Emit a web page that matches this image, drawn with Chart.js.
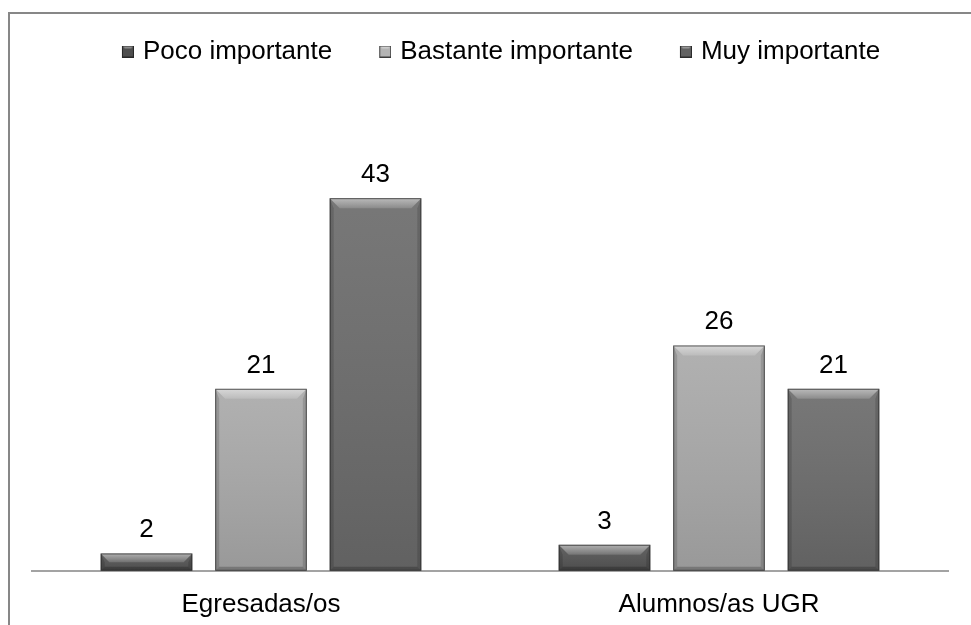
<!DOCTYPE html>
<html>
<head>
<meta charset="utf-8">
<script src="https://cdn.jsdelivr.net/npm/chart.js@4.4.0/dist/chart.umd.min.js"></script>
<style>
  html, body { margin: 0; padding: 0; background: #fff; }
  #wrap { width: 971px; height: 625px; position: relative; }
</style>
</head>
<body>
<div id="wrap"><canvas id="chart"></canvas></div>
<script>
// chart data
const categories = ['Egresadas/os', 'Alumnos/as UGR'];
const seriesNames = ['Poco importante', 'Bastante importante', 'Muy importante'];
const poco = [2, 3];
const bastante = [21, 26];
const muy = [43, 21];
const yMax = 50;

// styling
const barColors = ['#555555', '#aaaaaa', '#6c6c6c'];
const legendColors = ['#4e4e4e', '#b4b4b4', '#626262'];
const FONT = 'Liberation Sans, Arial, sans-serif';

// small bevelled square for the legend, drawn on the right part of a wider image
function legendMarker(color) {
    const c = document.createElement('canvas');
    c.width = 16; c.height = 12;
    const x = c.getContext('2d');
    x.fillStyle = color;
    x.fillRect(4, 0, 12, 12);
    x.fillStyle = 'rgba(255,255,255,0.35)';
    x.beginPath(); x.moveTo(4, 0); x.lineTo(16, 0); x.lineTo(13, 3); x.lineTo(7, 3); x.closePath(); x.fill();
    x.strokeStyle = 'rgba(30,30,30,0.8)';
    x.lineWidth = 1;
    x.strokeRect(4.5, 0.5, 11, 11);
    return c;
}

// frame around the whole chart (runs off the right and bottom edges)
const framePlugin = {
    id: 'frame',
    beforeDraw(chart) {
        const ctx = chart.ctx;
        ctx.save();
        ctx.strokeStyle = '#878787';
        ctx.lineWidth = 2;
        ctx.strokeRect(9, 13, 1200, 1200);
        ctx.restore();
    }
};

// move the legend to where the original has it
const legendShift = {
    id: 'legendShift',
    afterLayout(chart) {
        const l = chart.legend;
        l.left += 11; l.right += 11;
        l.top -= 63; l.bottom -= 63;
    }
};

// bevel look on bars + value labels above them
const bevelPlugin = {
    id: 'bevel',
    afterDatasetsDraw(chart) {
        const ctx = chart.ctx;
        chart.data.datasets.forEach((ds, di) => {
            const meta = chart.getDatasetMeta(di);
            meta.data.forEach((bar, i) => {
                const p = bar.getProps(['x', 'y', 'base', 'width'], true);
                const l = p.x - p.width / 2, r = p.x + p.width / 2;
                const t = p.y, b = p.base;
                const h = b - t;
                const bv = Math.min(10, h / 2);
                ctx.save();
                // body shading
                const g = ctx.createLinearGradient(0, t, 0, b);
                g.addColorStop(0, 'rgba(255,255,255,0.08)');
                g.addColorStop(1, 'rgba(0,0,0,0.10)');
                ctx.fillStyle = g;
                ctx.fillRect(l, t, p.width, h);
                // top bevel
                const gt = ctx.createLinearGradient(0, t, 0, t + bv);
                gt.addColorStop(0, 'rgba(255,255,255,0.5)');
                gt.addColorStop(1, 'rgba(255,255,255,0.15)');
                ctx.fillStyle = gt;
                ctx.beginPath();
                ctx.moveTo(l, t); ctx.lineTo(r, t);
                ctx.lineTo(r - bv, t + bv); ctx.lineTo(l + bv, t + bv);
                ctx.closePath(); ctx.fill();
                // sides
                ctx.fillStyle = 'rgba(0,0,0,0.14)';
                ctx.beginPath();
                ctx.moveTo(l, t); ctx.lineTo(l + 4, t + bv); ctx.lineTo(l + 4, b - 4); ctx.lineTo(l, b);
                ctx.closePath(); ctx.fill();
                ctx.beginPath();
                ctx.moveTo(r, t); ctx.lineTo(r - 4, t + bv); ctx.lineTo(r - 4, b - 4); ctx.lineTo(r, b);
                ctx.closePath(); ctx.fill();
                // bottom
                ctx.fillStyle = 'rgba(0,0,0,0.22)';
                ctx.beginPath();
                ctx.moveTo(l, b); ctx.lineTo(l + 4, b - 4); ctx.lineTo(r - 4, b - 4); ctx.lineTo(r, b);
                ctx.closePath(); ctx.fill();
                // outline
                ctx.strokeStyle = 'rgba(40,40,40,0.7)';
                ctx.lineWidth = 1;
                ctx.strokeRect(l + 0.5, t + 0.5, p.width - 1, h - 1);
                // value label
                ctx.fillStyle = '#000';
                ctx.font = '26px ' + FONT;
                ctx.textAlign = 'center';
                ctx.textBaseline = 'alphabetic';
                ctx.fillText(String(ds.data[i]), p.x, t - 16);
                ctx.restore();
            });
        });
    }
};

const chartData = {
    labels: categories,
    datasets: [
        { label: seriesNames[0], data: poco, backgroundColor: barColors[0] },
        { label: seriesNames[1], data: bastante, backgroundColor: barColors[1] },
        { label: seriesNames[2], data: muy, backgroundColor: barColors[2] }
    ]
};

const chartConfig = {
    type: 'bar',
    data: chartData,
    options: {
        responsive: false,
        animation: false,
        datasets: {
            bar: { categoryPercentage: 0.75, barPercentage: 0.8 }
        },
        layout: { padding: { left: 32, right: 23, top: 54.5, bottom: -5 } },
        plugins: {
            tooltip: { enabled: false },
            legend: {
                position: 'top',
                labels: {
                    color: '#000',
                    font: { family: FONT, size: 26 },
                    usePointStyle: true,
                    pointStyleWidth: 8,
                    boxHeight: 12,
                    padding: 47,
                    generateLabels(chart) {
                        return chart.data.datasets.map((ds, i) => ({
                            text: ds.label,
                            pointStyle: legendMarker(legendColors[i]),
                            fillStyle: legendColors[i],
                            strokeStyle: '#3a3a3a',
                            lineWidth: 1,
                            datasetIndex: i
                        }));
                    }
                }
            }
        },
        scales: {
            x: {
                grid: { display: false },
                border: { display: true, color: '#a3a3a3', width: 2 },
                ticks: { color: '#000', font: { family: FONT, size: 26 }, padding: 10 }
            },
            y: {
                display: false,
                min: 0,
                max: yMax
            }
        }
    },
    plugins: [framePlugin, legendShift, bevelPlugin]
};

const canvas = document.getElementById('chart');
canvas.width = 971;
canvas.height = 625;
new Chart(canvas, chartConfig);
</script>
</body>
</html>
